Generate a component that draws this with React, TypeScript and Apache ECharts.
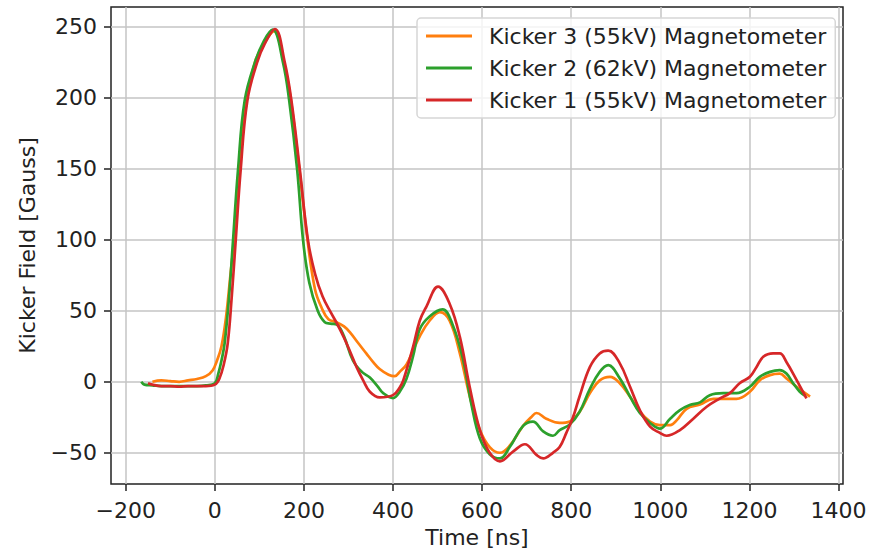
import React, { useEffect, useRef } from "react";
import * as echarts from "echarts";

// ---- Data ----
const xTicks = [-200, 0, 200, 400, 600, 800, 1000, 1200, 1400];
const yTicks = [-50, 0, 50, 100, 150, 200, 250];

const seriesNames = [
  "Kicker 3 (55kV) Magnetometer",
  "Kicker 2 (62kV) Magnetometer",
  "Kicker 1 (55kV) Magnetometer",
];
const seriesColors = ["#ff7f0e", "#2ca02c", "#d62728"];

const k3Times = [-140, -120, -100, -80, -60, -40, -20, -5, 5, 15, 25, 35, 45, 55, 70, 90, 110, 133, 155, 170, 190, 208, 225, 240, 255, 273, 290, 303, 320, 340, 355, 370, 390, 404, 415, 430, 445, 460, 482, 505, 527, 550, 572, 595, 617, 640, 662, 692, 710, 722, 744, 774, 797, 819, 842, 864, 887, 909, 932, 954, 977, 999, 1022, 1037, 1059, 1089, 1119, 1141, 1171, 1201, 1223, 1246, 1268, 1283, 1306, 1336];
const k3Values = [0, 1, 0.5, 0, 1, 2, 4, 8, 15, 25, 45, 75, 105, 145, 195, 225, 238, 247, 225, 200, 149, 100, 65, 52, 44, 42, 39, 35, 28, 20, 14, 9, 5, 4, 7, 12, 22, 32, 43, 49, 43, 20, -10, -34, -46, -50, -45, -31, -25, -22, -26, -29, -28, -21, -8, 1, 3.5, -1, -10.5, -21, -28, -30.5, -30.5, -27, -19, -16, -12, -12, -12, -7, 1, 4.7, 5.8, 2.4, -3.5, -10.5];

const k2Times = [-165, -158, -140, -120, -100, -80, -60, -40, -20, 0, 8, 15, 22, 32, 41, 52, 67, 90, 110, 130, 153, 167, 185, 198, 212, 231, 247, 260, 275, 290, 310, 330, 348, 365, 378, 400, 415, 430, 445, 460, 482, 511, 534, 557, 576, 595, 617, 640, 662, 692, 714, 737, 759, 774, 797, 819, 842, 864, 883, 909, 932, 954, 977, 999, 1022, 1044, 1066, 1089, 1111, 1141, 1171, 1201, 1223, 1246, 1268, 1283, 1298, 1313, 1326];
const k2Values = [0, -2, -2.5, -3, -3, -3, -3, -3, -2.5, -1, 6, 15, 27, 60, 100, 149, 198, 225, 240, 248, 225, 198, 149, 100, 70, 50, 42, 41, 40, 32, 15, 7, 3, -3, -8, -11.5, -7, 2, 18, 37, 46, 51, 40, 16, -16, -40, -51, -54, -46, -31, -28, -35, -38, -34, -30, -21, -5, 7, 11.7, 2.4, -10.5, -22, -29, -33, -26, -20, -16.4, -14.5, -9.4, -8, -8, -3.5, 3.5, 7, 8.2, 5.8, -1, -7, -10];

const k1Times = [-150, -140, -120, -100, -80, -60, -40, -20, 0, 10, 20, 29, 38, 47, 58, 73, 95, 112, 135, 157, 172, 191, 209, 225, 242, 260, 276, 290, 304, 318, 333, 348, 370, 400, 415, 423, 445, 460, 475, 501, 527, 550, 572, 595, 617, 640, 670, 696, 722, 737, 759, 774, 789, 804, 819, 842, 864, 883, 909, 932, 954, 977, 999, 1014, 1044, 1074, 1104, 1134, 1156, 1178, 1201, 1216, 1231, 1253, 1268, 1283, 1306, 1328];
const k1Values = [-1, -2, -3, -3, -3.5, -3, -3, -3, -2, 2, 12, 27, 60, 100, 149, 198, 225, 238, 248.5, 225, 198, 149, 100, 76, 60, 49, 40, 31, 21, 10.5, 1, -7, -11, -9.4, -4, 1, 24.6, 43, 53, 67, 55, 31.6, -3.5, -34, -50, -56, -49, -44, -51.5, -54, -50, -46, -36, -25, -10, 10.5, 20, 22, 13, -3.5, -20, -31.6, -36, -38, -34, -26, -17.6, -11.7, -8, -1, 3.5, 10.5, 17.6, 20, 20, 14, 1.2, -11.7];

const seriesTimes = [k3Times, k2Times, k1Times];
const seriesValues = [k3Values, k2Values, k1Values];

const FONT = "DejaVu Sans";
const TEXT_COLOR = "#222";
const FS = 22;

export default function App() {
  const ref = useRef<HTMLDivElement>(null);

  useEffect(() => {
    if (!ref.current) return;
    const chart = echarts.init(ref.current, null, { renderer: "svg" });

    const series = seriesNames.map((name, i) => ({
      name,
      type: "line",
      data: seriesTimes[i].map((t, j) => [t, seriesValues[i][j]]),
      showSymbol: false,
      smooth: 0.4,
      lineStyle: { color: seriesColors[i], width: 2.7 },
      itemStyle: { color: seriesColors[i] },
      z: 3 + i,
    }));

    const minusFmt = (v: number) => (v < 0 ? "\u2212" + Math.abs(v) : String(v));

    chart.setOption({
      animation: false,
      backgroundColor: "#ffffff",
      textStyle: { fontFamily: FONT },
      grid: {
        left: 111,
        right: 37,
        top: 7,
        bottom: 64,
        show: true,
        borderColor: "#222",
        borderWidth: 1.5,
        backgroundColor: "transparent",
        containLabel: false,
        outerBoundsMode: "none",
      },
      legend: {
        data: seriesNames,
        orient: "vertical",
        left: 417,
        top: 18,
        icon: "rect",
        itemWidth: 46,
        itemHeight: 3,
        itemGap: 10,
        padding: [7, 9, 7, 9],
        backgroundColor: "rgba(255,255,255,0.8)",
        borderColor: "#d6d6d6",
        borderWidth: 1.5,
        borderRadius: 4,
        textStyle: {
          fontFamily: FONT,
          fontSize: FS,
          color: TEXT_COLOR,
          lineHeight: 22,
          padding: [0, 0, 0, 12],
        },
        selectedMode: false,
      },
      xAxis: {
        type: "value",
        min: -233,
        max: 1410,
        name: "Time [ns]",
        nameLocation: "middle",
        nameGap: 42,
        nameTextStyle: { fontFamily: FONT, fontSize: FS, color: TEXT_COLOR },
        axisLine: { show: false, onZero: false },
        axisTick: {
          show: true,
          length: 7,
          lineStyle: { color: "#222", width: 1.5 },
          customValues: xTicks,
        },
        axisLabel: {
          fontFamily: FONT,
          fontSize: FS,
          color: TEXT_COLOR,
          margin: 15,
          customValues: xTicks,
          formatter: minusFmt,
        },
        splitLine: { show: true, lineStyle: { color: "#c4c4c4", width: 1.5 } },
      },
      yAxis: {
        type: "value",
        min: -72,
        max: 264,
        name: "Kicker Field [Gauss]",
        nameLocation: "middle",
        nameGap: 73,
        nameRotate: 90,
        nameTextStyle: { fontFamily: FONT, fontSize: FS, color: TEXT_COLOR },
        axisLine: { show: false, onZero: false },
        axisTick: {
          show: true,
          length: 7,
          lineStyle: { color: "#222", width: 1.5 },
          customValues: yTicks,
        },
        axisLabel: {
          fontFamily: FONT,
          fontSize: FS,
          color: TEXT_COLOR,
          margin: 14,
          customValues: yTicks,
          formatter: minusFmt,
        },
        splitLine: { show: true, lineStyle: { color: "#c4c4c4", width: 1.5 } },
      },
      series,
    });

    return () => chart.dispose();
  }, []);

  return (
    <div
      ref={ref}
      style={{ position: "fixed", left: 0, top: 0, width: 880, height: 548 }}
    />
  );
}
